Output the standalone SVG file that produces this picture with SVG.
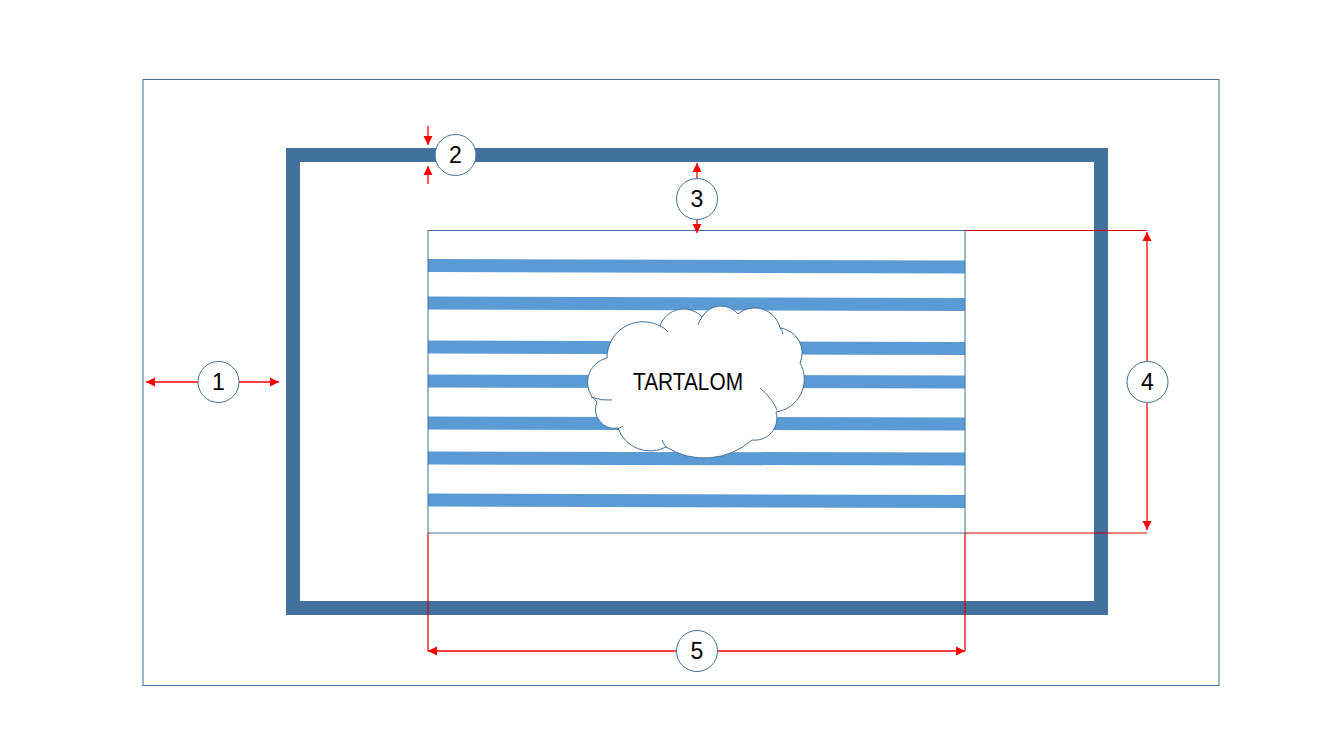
<svg xmlns="http://www.w3.org/2000/svg" width="1342" height="755" viewBox="0 0 1342 755">
<style>
.thin{fill:none;stroke:#41719C;stroke-width:1}
.frame{fill:none;stroke:#41719C;stroke-width:14}
.stripe{stroke:#5B9BD5;stroke-width:13;fill:none}
.ext{stroke:#D00000;stroke-width:1.2;fill:none}
.arr{stroke:#FF0000;stroke-width:1.3;fill:none;marker-end:url(#ah)}
.circ{fill:#FFFFFF;stroke:#41719C;stroke-width:1}
.num{font-family:"Liberation Sans",Arial,sans-serif;font-size:23px;fill:#000;text-anchor:middle}
.cloud{fill:#FFFFFF;stroke:#41719C;stroke-width:1}
.cin{fill:none;stroke:#41719C;stroke-width:1}
</style>
<defs>
<marker id="ah" markerUnits="userSpaceOnUse" markerWidth="10" markerHeight="10" refX="9" refY="5" orient="auto">
<path d="M0,0.5 L9,5 L0,9.5 Z" fill="#FF0000"/>
</marker>
</defs>
<rect width="1342" height="755" fill="#FFFFFF"/>
<g id="outer-area"><rect class="thin" x="143" y="79.5" width="1076" height="606"/></g>
<g id="frame"><rect class="frame" x="293" y="155" width="808" height="453"/></g>
<g id="content">
<line class="stripe" x1="428" y1="265.5" x2="965" y2="267"/>
<line class="stripe" x1="428" y1="303" x2="965" y2="304.5"/>
<line class="stripe" x1="428" y1="347" x2="965" y2="348.5"/>
<line class="stripe" x1="428" y1="381" x2="965" y2="382"/>
<line class="stripe" x1="428" y1="423" x2="965" y2="424"/>
<line class="stripe" x1="428" y1="458" x2="965" y2="459"/>
<line class="stripe" x1="428" y1="500" x2="965" y2="501.5"/>
<rect class="thin" x="428" y="230.5" width="537" height="302.5"/>
</g>
<g id="cloud">
<path class="cloud" d="M597,402 A25,25 0 0 1 607,358 A36,36 0 0 1 660,326 A25,25 0 0 1 702,317 A22,22 0 0 1 738,314 A26,26 0 0 1 780,328 A25,25 0 0 1 800,363 A33,33 0 0 1 776,412 A22,22 0 0 1 752,440 A72,72 0 0 1 666,447 A34,34 0 0 1 618,428 A19,19 0 0 1 597,402 Z"/>
<path class="cin" d="M591,397 Q602,401 612,400"/>
<path class="cin" d="M660,326 Q665,328 668,332"/>
<path class="cin" d="M702,317 Q699,321 698,325"/>
<path class="cin" d="M780,328 Q782,330 783,334"/>
<path class="cin" d="M760,388 Q772,398 777,410"/>
<path class="cin" d="M666,447 Q663,443 662,440"/>
<path class="cin" d="M617,429 Q620,428 623,426"/>
<text x="688" y="390" font-family="'Liberation Sans',Arial,sans-serif" font-size="24" text-anchor="middle" textLength="110" lengthAdjust="spacingAndGlyphs" fill="#000">TARTALOM</text>
</g>
<g id="connectors">
<line class="arr" x1="198" y1="382" x2="146" y2="382"/>
<line class="arr" x1="239" y1="382" x2="279" y2="382"/>
<line class="arr" x1="428" y1="126" x2="428" y2="145"/>
<line class="arr" x1="428" y1="184" x2="428" y2="166"/>
<line class="arr" x1="697" y1="179" x2="697" y2="163"/>
<line class="arr" x1="697" y1="219" x2="697" y2="233"/>
<line class="ext" x1="965" y1="230.5" x2="1147" y2="230.5"/>
<line class="ext" x1="965" y1="533" x2="1147" y2="533"/>
<line class="arr" x1="1147" y1="362" x2="1147" y2="232"/>
<line class="arr" x1="1147" y1="402" x2="1147" y2="530"/>
<line class="ext" x1="428" y1="533" x2="428" y2="651"/>
<line class="ext" x1="965" y1="533" x2="965" y2="651"/>
<line class="arr" x1="677" y1="651" x2="428" y2="651"/>
<line class="arr" x1="717" y1="651" x2="965" y2="651"/>
</g>
<g id="label-1"><circle class="circ" cx="218.5" cy="382" r="20.5"/><text class="num" x="218.5" y="390">1</text></g>
<g id="label-2"><circle class="circ" cx="455.5" cy="155" r="20.5"/><text class="num" x="455.5" y="163">2</text></g>
<g id="label-3"><circle class="circ" cx="697" cy="199" r="20.5"/><text class="num" x="697" y="207">3</text></g>
<g id="label-4"><circle class="circ" cx="1147.5" cy="382" r="20.5"/><text class="num" x="1147.5" y="390">4</text></g>
<g id="label-5"><circle class="circ" cx="697" cy="651" r="20.5"/><text class="num" x="697" y="659">5</text></g>
</svg>
